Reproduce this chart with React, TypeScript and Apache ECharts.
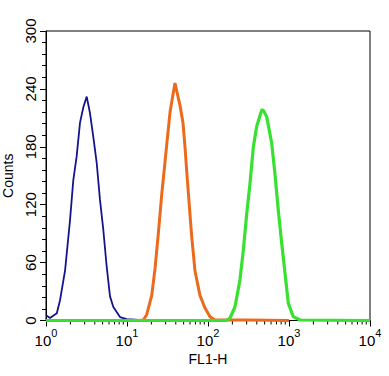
import React, { useEffect, useRef } from "react";
import * as echarts from "echarts";

// FL1-H values and counts
const blueX = [1.0, 1.12, 1.36, 1.49, 1.72, 1.98, 2.17, 2.39, 2.63, 2.89, 3.18, 3.49, 3.84, 4.23, 4.64, 5.1, 5.61, 6.17, 6.78, 8.2, 9.9, 14, 20];
const blueY = [5.6, 2.5, 7.5, 21, 52, 104, 145, 170, 205, 221, 232, 215, 190, 163, 125, 94, 56, 25, 14, 3.6, 1.5, 0.5, 0];

const orangeX = [1, 14.5, 15.9, 17.5, 20.2, 22.2, 24.3, 26.8, 29.5, 31.8, 34.0, 39.1, 45.1, 49.1, 52.0, 55.1, 57.5, 62.6, 69.2, 79.6, 91.8, 105.9, 122, 300, 1000];
const orangeY = [0, 0, 0.5, 6, 26, 54, 89, 130, 165, 192, 216, 246, 223, 205, 180, 150, 130, 89, 51, 26, 13, 4, 0.5, 0.5, 0];

const greenX = [1, 167, 187, 215, 248, 273, 301, 330, 363, 399, 460, 482, 531, 611, 671, 738, 813, 893, 980, 1130, 1368, 10000];
const greenY = [0, 0, 2.6, 14, 42, 73, 111, 142, 180, 201, 218, 218, 211, 184, 152, 114, 80, 49, 18, 4, 0.5, 0];

const decades = [1, 10, 100, 1000];
const minorMultipliers = [2, 3, 4, 5, 6, 7, 8, 9];
const yTicks = { min: 0, max: 300, interval: 60 };

const FONT = "'Liberation Sans', Arial, Helvetica, sans-serif";

function zip(xs: number[], ys: number[]) {
  return xs.map((x, i) => [x, ys[i]]);
}

export default function App() {
  const ref = useRef<HTMLDivElement>(null);
  useEffect(() => {
    document.body.style.margin = "0";
    if (!ref.current) return;
    const chart = echarts.init(ref.current, undefined, { renderer: "svg" });
    const minorTicks: number[] = [];
    decades.forEach((d) => minorMultipliers.forEach((m) => minorTicks.push(d * m)));
    chart.setOption({
      animation: false,
      backgroundColor: "#ffffff",
      grid: {
        left: 46,
        top: 31,
        right: 19,
        bottom: 55.5,
        containLabel: false,
        outerBoundsMode: "none",
        show: true,
        borderColor: "#000",
        borderWidth: 1,
        backgroundColor: "transparent",
      },
      xAxis: {
        type: "log",
        logBase: 10,
        min: 1,
        max: 10000,
        name: "FL1-H",
        nameLocation: "middle",
        nameGap: 30,
        nameTextStyle: { fontFamily: FONT, fontSize: 14, color: "#000" },
        axisLine: { show: true, lineStyle: { color: "#000", width: 1 } },
        axisTick: { show: true, inside: false, length: 6, lineStyle: { color: "#000" } },
        splitLine: { show: false },
        axisLabel: {
          margin: 7,
          formatter: (v: number) => `{b|10}{s|${Math.round(Math.log10(v))}}`,
          rich: {
            b: { fontFamily: FONT, fontSize: 15, color: "#000", verticalAlign: "bottom" },
            s: { fontFamily: FONT, fontSize: 11, color: "#000", verticalAlign: "top", padding: [0, 0, 9, 0] },
          },
        },
      },
      yAxis: {
        type: "value",
        min: yTicks.min,
        max: yTicks.max,
        interval: yTicks.interval,
        name: "Counts",
        nameLocation: "middle",
        nameGap: 28,
        nameRotate: 90,
        nameTextStyle: { fontFamily: FONT, fontSize: 14, color: "#000" },
        axisLine: { show: true, lineStyle: { color: "#000", width: 1 } },
        axisTick: { show: true, inside: false, length: 6, lineStyle: { color: "#000" } },
        minorTick: { show: true, splitNumber: 5, length: 4, lineStyle: { color: "#000" } },
        splitLine: { show: false },
        axisLabel: {
          rotate: 90,
          margin: 8,
          fontFamily: FONT,
          fontSize: 15,
          color: "#000",
        },
      },
      series: [
        {
          type: "custom",
          silent: true,
          clip: false,
          data: minorTicks.map((v) => [v, 0]),
          renderItem: (_params: any, api: any) => {
            const p = api.coord([api.value(0), 0]);
            return {
              type: "line",
              shape: { x1: p[0], y1: p[1], x2: p[0], y2: p[1] + 4 },
              style: { stroke: "#000", lineWidth: 1 },
            };
          },
          z: 1,
        },
        {
          type: "line",
          data: zip(blueX, blueY),
          showSymbol: false,
          lineStyle: { color: "#14148c", width: 1.8 },
          z: 2,
        },
        {
          type: "line",
          data: zip(orangeX, orangeY),
          showSymbol: false,
          lineStyle: { color: "#ec6a1c", width: 3 },
          z: 3,
        },
        {
          type: "line",
          data: zip(greenX, greenY),
          showSymbol: false,
          lineStyle: { color: "#38e030", width: 3.2 },
          z: 4,
        },
      ],
    });
    return () => chart.dispose();
  }, []);
  return <div ref={ref} style={{ width: 389, height: 376 }} />;
}
